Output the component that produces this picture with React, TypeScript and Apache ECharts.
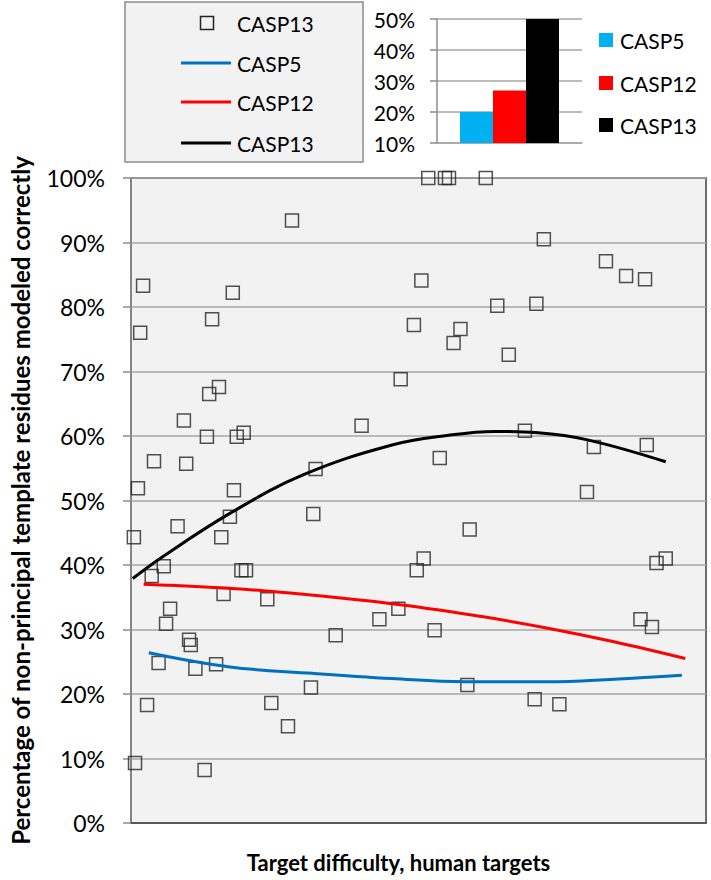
import React, { useEffect, useRef } from "react";
import * as echarts from "echarts";

// Scatter: CASP13 human targets (x = difficulty rank position, y = % correct)
const scatterX = [0.5, 0.7, 1.2, 1.6, 2.1, 2.8, 3.6, 4.0, 4.8, 5.7, 6.1, 6.8, 8.1, 9.2, 9.6, 10.1, 10.4, 11.2, 12.8, 13.2, 13.6, 14.1, 14.8, 15.3, 15.7, 16.1, 17.2, 17.7, 17.9, 18.4, 19.2, 19.6, 20.0, 23.7, 24.4, 27.3, 28.0, 31.3, 31.7, 32.1, 35.6, 40.1, 43.2, 46.5, 46.9, 49.2, 49.7, 50.5, 50.9, 51.7, 52.8, 53.7, 54.6, 55.3, 56.1, 57.3, 58.5, 58.9, 61.7, 63.7, 65.7, 68.5, 70.2, 70.5, 71.8, 74.5, 79.3, 80.5, 82.6, 86.1, 88.6, 89.4, 89.7, 90.6, 91.4, 93.0];
const scatterY = [44.3, 9.3, 51.9, 76.0, 83.3, 18.3, 38.3, 56.1, 24.8, 39.8, 30.9, 33.2, 46.0, 62.4, 55.7, 28.4, 27.6, 23.9, 8.2, 59.9, 66.5, 78.1, 24.6, 67.6, 44.3, 35.5, 47.5, 82.2, 51.6, 59.9, 39.2, 60.5, 39.2, 34.7, 18.6, 15.0, 93.4, 21.0, 47.9, 54.9, 29.1, 61.6, 31.6, 33.2, 68.8, 77.2, 39.2, 84.1, 41.0, 100, 29.9, 56.6, 100, 100, 74.4, 76.6, 21.4, 45.5, 100, 80.2, 72.6, 60.8, 19.2, 80.5, 90.5, 18.4, 51.3, 58.3, 87.1, 84.8, 31.6, 84.3, 58.6, 30.4, 40.3, 41.0];

// Trend lines
const casp5FitX = [3.1, 17.2, 31.6, 45.4, 58.1, 72.5, 84.0, 95.8];
const casp5FitY = [26.4, 24.2, 23.2, 22.4, 21.9, 21.9, 22.3, 22.9];
const casp12FitX = [2.2, 23.0, 45.4, 61.0, 72.5, 84.0, 96.4];
const casp12FitY = [37.0, 36.0, 34.0, 32.0, 30.2, 28.1, 25.5];
const casp13FitX = [0.3, 5.7, 17.2, 30.0, 45.4, 55.2, 63.3, 70.8, 79.4, 93.0];
const casp13FitY = [37.9, 41.4, 48.0, 54.0, 58.6, 60.1, 60.7, 60.5, 59.4, 56.0];

// Inset bar chart
const insetNames = ["CASP5", "CASP12", "CASP13"];
const insetValues = [20, 26.9, 50];
const insetColors = ["#00b0f0", "#ff0000", "#000000"];
const insetTicks = [10, 20, 30, 40, 50];

const mainTicks = [0, 10, 20, 30, 40, 50, 60, 70, 80, 90, 100];

const FONT = "Lato";

const zip = (xs: number[], ys: number[]) => xs.map((x, i) => [x, ys[i]]);

export default function App() {
  const ref = useRef<HTMLDivElement>(null);
  useEffect(() => {
    if (!ref.current) return;
    const chart = echarts.init(ref.current, undefined, { renderer: "svg" });

    const legendItems: any[] = [];
    // main legend box
    legendItems.push({
      type: "rect",
      shape: { x: 125, y: 2, width: 238, height: 160 },
      style: { fill: "#f2f2f2", stroke: "#8c8c8c", lineWidth: 1.5 },
      z: 10,
    });
    legendItems.push({
      type: "rect",
      shape: { x: 200.5, y: 16.5, width: 13, height: 13 },
      style: { fill: "rgba(0,0,0,0)", stroke: "#262626", lineWidth: 1.5 },
      z: 11,
    });
    const lineEntries = [
      { c: "#0070c0", y: 63, t: "CASP5" },
      { c: "#ff0000", y: 102, t: "CASP12" },
      { c: "#000000", y: 143, t: "CASP13" },
    ];
    legendItems.push({
      type: "text",
      x: 237,
      y: 23,
      style: { text: "CASP13", font: `21px ${FONT}`, fill: "#000", verticalAlign: "middle", align: "left" },
      z: 11,
    });
    lineEntries.forEach((e) => {
      legendItems.push({
        type: "line",
        shape: { x1: 181, y1: e.y, x2: 231, y2: e.y },
        style: { stroke: e.c, lineWidth: 3 },
        z: 11,
      });
      legendItems.push({
        type: "text",
        x: 237,
        y: e.y,
        style: { text: e.t, font: `21px ${FONT}`, fill: "#000", verticalAlign: "middle", align: "left" },
        z: 11,
      });
    });
    // inset legend
    const insetLegY = [40, 83, 125];
    insetNames.forEach((n, i) => {
      legendItems.push({
        type: "rect",
        shape: { x: 599, y: insetLegY[i] - 7, width: 14, height: 14 },
        style: { fill: insetColors[i] },
        z: 11,
      });
      legendItems.push({
        type: "text",
        x: 620,
        y: insetLegY[i],
        style: { text: n, font: `21px ${FONT}`, fill: "#000", verticalAlign: "middle", align: "left" },
        z: 11,
      });
    });

    chart.setOption({
      animation: false,
      textStyle: { fontFamily: FONT },
      grid: [
        {
          left: 127,
          top: 178,
          width: 579,
          height: 645,
          show: true,
          backgroundColor: "#f2f2f2",
          borderColor: "#404040",
          borderWidth: 1.5,
        },
        { left: 437, top: 19, width: 145, height: 124 },
      ],
      xAxis: [
        {
          type: "value",
          gridIndex: 0,
          min: 0,
          max: 100,
          axisLabel: { show: false },
          axisTick: { show: false },
          splitLine: { show: false },
          axisLine: { show: true, lineStyle: { color: "#595959", width: 2 } },
          name: "Target difficulty, human targets",
          nameLocation: "middle",
          nameGap: 28,
          nameTextStyle: { fontSize: 22, fontWeight: "bold", color: "#000", fontFamily: FONT, padding: [0, 40, 0, 0] },
        },
        {
          type: "category",
          gridIndex: 1,
          data: [""],
          axisLabel: { show: false },
          axisTick: { show: false },
          axisLine: { show: true, lineStyle: { color: "#a6a6a6", width: 1.5 } },
        },
      ],
      yAxis: [
        {
          type: "value",
          gridIndex: 0,
          min: mainTicks[0],
          max: mainTicks[mainTicks.length - 1],
          interval: 10,
          axisLabel: { formatter: "{value}%", fontSize: 23, color: "#000", margin: 26, fontFamily: FONT },
          axisTick: { show: true, length: 8, inside: false, lineStyle: { color: "#8c8c8c", width: 1.5 } },
          axisLine: { show: true, lineStyle: { color: "#8c8c8c", width: 1.5 } },
          splitLine: { show: true, lineStyle: { color: "#a6a6a6", width: 1.5 } },
          name: "Percentage of non-principal template residues modeled correctly",
          nameLocation: "middle",
          nameGap: 99,
          nameTextStyle: { fontSize: 24, fontWeight: "bold", color: "#000", fontFamily: FONT },
        },
        {
          type: "value",
          gridIndex: 1,
          min: insetTicks[0],
          max: insetTicks[insetTicks.length - 1],
          interval: 10,
          axisLabel: { formatter: "{value}%", fontSize: 21, color: "#000", margin: 22, fontFamily: FONT },
          axisTick: { show: true, length: 7, inside: false, lineStyle: { color: "#8c8c8c", width: 1.5 } },
          axisLine: { show: true, lineStyle: { color: "#8c8c8c", width: 1.5 } },
          splitLine: { show: true, lineStyle: { color: "#a6a6a6", width: 1.5 } },
        },
      ],
      graphic: legendItems,
      series: [
        {
          name: "CASP13 targets",
          type: "scatter",
          xAxisIndex: 0,
          yAxisIndex: 0,
          symbol: "rect",
          symbolSize: 13,
          data: zip(scatterX, scatterY),
          itemStyle: { color: "rgba(0,0,0,0)", borderColor: "#262626", borderWidth: 1.5 },
          z: 3,
        },
        {
          name: "CASP5 fit",
          type: "line",
          xAxisIndex: 0,
          yAxisIndex: 0,
          data: zip(casp5FitX, casp5FitY),
          showSymbol: false,
          smooth: 0.4,
          lineStyle: { color: "#0070c0", width: 3 },
          z: 4,
        },
        {
          name: "CASP12 fit",
          type: "line",
          xAxisIndex: 0,
          yAxisIndex: 0,
          data: zip(casp12FitX, casp12FitY),
          showSymbol: false,
          smooth: 0.4,
          lineStyle: { color: "#ff0000", width: 3 },
          z: 4,
        },
        {
          name: "CASP13 fit",
          type: "line",
          xAxisIndex: 0,
          yAxisIndex: 0,
          data: zip(casp13FitX, casp13FitY),
          showSymbol: false,
          smooth: 0.4,
          lineStyle: { color: "#000000", width: 3 },
          z: 4,
        },
        ...insetNames.map((n, i) => ({
          name: n + " bar",
          type: "bar",
          xAxisIndex: 1,
          yAxisIndex: 1,
          data: [insetValues[i]],
          barWidth: 33,
          barGap: "0%",
          itemStyle: { color: insetColors[i] },
        })),
      ],
    });
    return () => chart.dispose();
  }, []);
  return (
    <div
      ref={ref}
      style={{ position: "absolute", left: 0, top: 0, width: 711, height: 880, background: "#fff" }}
    />
  );
}
